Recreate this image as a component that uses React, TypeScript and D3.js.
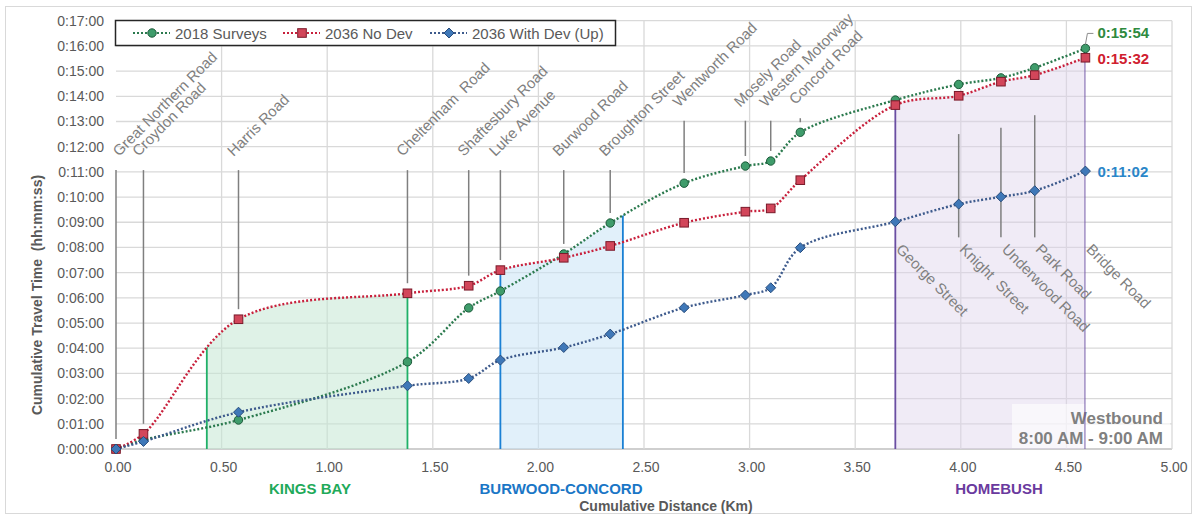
import React from "react";
import * as d3 from "d3";

// ---- data ----
const roadNames = [
  "Great Northern Road", "Croydon Road", "Harris Road", "Cheltenham  Road", "Shaftesbury Road",
  "Luke Avenue", "Burwood Road", "Broughton Street", "Wentworth Road", "Mosely Road",
  "Western Motorway", "Concord Road", "George Street", "Knight  Street", "Underwood Road",
  "Park Road", "Bridge Road",
];
const distanceKm = [0, 0.13, 0.58, 1.38, 1.67, 1.82, 2.12, 2.34, 2.69, 2.98, 3.10, 3.24, 3.69, 3.99, 4.19, 4.35, 4.59];
const surveys2018 = [0, 0.36, 1.15, 3.46, 5.6, 6.27, 7.74, 8.97, 10.55, 11.23, 11.43, 12.57, 13.85, 14.47, 14.73, 15.13, 15.9];
const noDev2036 = [0, 0.6, 5.15, 6.18, 6.48, 7.1, 7.59, 8.06, 8.98, 9.42, 9.55, 10.67, 13.65, 14.02, 14.58, 14.84, 15.53];
const withDev2036 = [0, 0.3, 1.46, 2.51, 2.8, 3.53, 4.03, 4.56, 5.61, 6.11, 6.4, 7.99, 9.02, 9.72, 10.01, 10.25, 11.03];
const labelSide = ["top","top","top","top","top","top","top","top","top","top","top","top","bottom","bottom","bottom","bottom","bottom"];
const leaderTopMin = [11.07, 11.07, 11.07, 11.07, 11.07, 11.07, 11.07, 11.07, 13.03, 13.03, 13.03, 13.13, null, 12.5, 12.75, 13.25, null];
const leaderBottomMin = 8.4;
const endLabels = ["0:15:54", "0:15:32", "0:11:02"];
const seriesNames = ["2018 Surveys", "2036 No Dev", "2036 With Dev (Up)"];
const regions = [
  { name: "KINGS BAY", from: 0.43, to: 1.38, top: ["noDev"] },
  { name: "BURWOOD-CONCORD", from: 1.82, to: 2.40, top: ["noDev", "surveys"] },
  { name: "HOMEBUSH", from: 3.69, to: 4.59, top: ["noDev"] },
];
const regionLineTop = [["noDev"], ["noDev", "surveys"], ["surveys"]];
const xTicks = [0, 0.5, 1, 1.5, 2, 2.5, 3, 3.5, 4, 4.5, 5];
const yTicks = d3.range(0, 18);

const FONT = "'Liberation Sans', Arial, sans-serif";

export default function App() {
  const W = 1195, H = 516;
  const x = d3.scaleLinear().domain([0, 5]).range([116, 1172]);
  const y = d3.scaleLinear().domain([0, 17]).range([449, 20.7]);
  const curve = d3.curveCatmullRom.alpha(0.5);

  const seriesData: Record<string, number[]> = { surveys: surveys2018, noDev: noDev2036, withDev: withDev2036 };
  const pts = (arr: number[]) => arr.map((t, i) => [distanceKm[i], t] as [number, number]);
  const line = d3.line<[number, number]>().x(d => x(d[0])).y(d => y(d[1])).curve(curve);
  const area = d3.area<[number, number]>().x(d => x(d[0])).y0(y(0)).y1(d => y(d[1])).curve(curve);

  const series = [
    { key: "surveys", name: seriesNames[0], line: "#2b7a4e", fill: "#3f9c6b", stroke: "#1d5a3a", marker: "circle", label: "#2e8a3e" },
    { key: "noDev", name: seriesNames[1], line: "#c8203c", fill: "#d2465a", stroke: "#7a1a2a", marker: "square", label: "#d0202f" },
    { key: "withDev", name: seriesNames[2], line: "#3d5a8c", fill: "#3f78b8", stroke: "#284c7c", marker: "diamond", label: "#2a86c8" },
  ];
  const regionStyle = [
    { fill: "#c4e8d3", line: "#20b068", text: "#1faa5a", op: 0.55 },
    { fill: "#c9e4f6", line: "#1a80d4", text: "#1a76c6", op: 0.55 },
    { fill: "#ddd3ec", line: "#6a4ea2", text: "#6a3a9e", op: 0.45 },
  ];

  const marker = (type: string, cx: number, cy: number, fill: string, stroke: string, key: string) => {
    if (type === "circle") return <circle key={key} cx={cx} cy={cy} r={4.2} fill={fill} stroke={stroke} strokeWidth={1} />;
    if (type === "square") return <rect key={key} x={cx - 4.3} y={cy - 4.3} width={8.6} height={8.6} fill={fill} stroke={stroke} strokeWidth={1} />;
    return <path key={key} d={`M${cx},${cy - 5}L${cx + 5},${cy}L${cx},${cy + 5}L${cx - 5},${cy}Z`} fill={fill} stroke={stroke} strokeWidth={1} />;
  };

  const fmtY = (m: number) => `0:${String(m).padStart(2, "0")}:00`;

  return (
    <svg width={W} height={H} style={{ position: "absolute", left: 0, top: 0, fontFamily: FONT }}>
      <defs>
        {regions.map((r, i) => (
          <clipPath id={`rclip${i}`} key={i}>
            <rect x={x(r.from)} y={0} width={x(r.to) - x(r.from)} height={H} />
          </clipPath>
        ))}
        {regionLineTop.map((keys, i) => (
          <clipPath id={`aclip${i}`} key={i}>
            {keys.map(k => <path key={k} d={area(pts(seriesData[k])) || ""} />)}
          </clipPath>
        ))}
      </defs>
      <rect x={0} y={0} width={W} height={H} fill="#fff" />
      <rect x={5.5} y={6.5} width={1186} height={507} fill="none" stroke="#d9d9d9" strokeWidth={1} />

      {/* grid */}
      {yTicks.map(m => (
        <line key={"gy" + m} x1={x(0)} x2={x(5)} y1={y(m)} y2={y(m)} stroke={m === 0 ? "#bfbfbf" : "#d9d9d9"} strokeWidth={1.3} />
      ))}
      {xTicks.filter(v => v > 0).map(v => (
        <line key={"gx" + v} x1={x(v)} x2={x(v)} y1={y(17)} y2={y(0)} stroke="#d9d9d9" strokeWidth={1.3} />
      ))}

      {/* region fills */}
      {regions.map((r, i) => (
        <g key={"rf" + i} clipPath={`url(#rclip${i})`} opacity={regionStyle[i].op}>
          {r.top.map(k => <path key={k} d={area(pts(seriesData[k])) || ""} fill={regionStyle[i].fill} />)}
        </g>
      ))}

      {/* Westbound box */}
      <rect x={1012} y={404} width={158} height={44} fill="#fff" opacity={0.6} />
      <text x={1163} y={424} textAnchor="end" fontSize={17} fontWeight="bold" fill="#808080">Westbound</text>
      <text x={1163} y={444} textAnchor="end" fontSize={17} fontWeight="bold" fill="#808080">8:00 AM - 9:00 AM</text>

      {/* region boundary lines */}
      {regions.map((r, i) => (
        <g key={"rl" + i} clipPath={`url(#aclip${i})`}>
          {[r.from, r.to].map(v => (
            <line key={v} x1={x(v)} x2={x(v)} y1={0} y2={y(0)} stroke={regionStyle[i].line} strokeWidth={1.8} />
          ))}
        </g>
      ))}

      {/* leader lines */}
      {roadNames.map((n, i) => {
        const top = leaderTopMin[i];
        if (top == null) return null;
        const xi = x(distanceKm[i]);
        if (labelSide[i] === "top") {
          const mx = Math.max(surveys2018[i], noDev2036[i], withDev2036[i]);
          return <line key={"ld" + i} x1={xi} x2={xi} y1={y(top)} y2={y(mx + 0.4)} stroke="#7f7f7f" strokeWidth={1.5} />;
        }
        return <line key={"ld" + i} x1={xi} x2={xi} y1={y(top)} y2={y(leaderBottomMin)} stroke="#7f7f7f" strokeWidth={1.5} />;
      })}

      {/* series lines */}
      {series.map(s => (
        <path key={"l" + s.key} d={line(pts(seriesData[s.key])) || ""} fill="none" stroke={s.line} strokeWidth={2.4} strokeDasharray="2 2" />
      ))}
      {series.map(s => (
        <g key={"m" + s.key}>
          {seriesData[s.key].map((t, i) => marker(s.marker, x(distanceKm[i]), y(t), s.fill, s.stroke, s.key + i))}
        </g>
      ))}

      {/* road labels */}
      {roadNames.map((n, i) => {
        const xi = x(distanceKm[i]);
        if (labelSide[i] === "top") {
          const px = Math.max(xi - 5, 119), py = y(leaderTopMin[i] as number) - 13;
          return (
            <text key={"rn" + i} x={px} y={py} transform={`rotate(-45 ${px} ${py})`} fontSize={15} fill="#7f7f7f" style={{ whiteSpace: "pre" }}>{n}</text>
          );
        }
        const px = xi, py = y(leaderBottomMin) + 13;
        return (
          <text key={"rn" + i} x={px} y={py} transform={`rotate(45 ${px} ${py})`} fontSize={15} fill="#7f7f7f" style={{ whiteSpace: "pre" }}>{n}</text>
        );
      })}

      {/* end labels */}
      {(() => {
        const last = distanceKm.length - 1;
        const xl = x(distanceKm[last]);
        return (
          <g>
            <polyline points={`${xl},${y(surveys2018[last]) - 4} ${xl + 2},${y(surveys2018[last]) - 15} ${xl + 8},${y(surveys2018[last]) - 15}`} fill="none" stroke="#8c8c8c" strokeWidth={1} />
            <text x={xl + 12} y={y(surveys2018[last]) - 10} fontSize={15} fontWeight="bold" fill={series[0].label}>{endLabels[0]}</text>
            <text x={xl + 12} y={y(noDev2036[last]) + 6} fontSize={15} fontWeight="bold" fill={series[1].label}>{endLabels[1]}</text>
            <text x={xl + 12} y={y(withDev2036[last]) + 6} fontSize={15} fontWeight="bold" fill={series[2].label}>{endLabels[2]}</text>
          </g>
        );
      })()}

      {/* axes labels */}
      {yTicks.map(m => (
        <text key={"ty" + m} x={104} y={y(m) + 5} textAnchor="end" fontSize={14} fill="#595959">{fmtY(m)}</text>
      ))}
      {xTicks.map(v => (
        <text key={"tx" + v} x={x(v) + 2} y={472} textAnchor="middle" fontSize={14} fill="#595959">{v.toFixed(2)}</text>
      ))}
      {regions.map((r, i) => (
        <text key={"rt" + i} x={[310, 561, 999][i]} y={494} textAnchor="middle" fontSize={15} fontWeight="bold" fill={regionStyle[i].text}>{r.name}</text>
      ))}
      <text x={666} y={511} textAnchor="middle" fontSize={14} fontWeight="bold" fill="#595959">Cumulative Distance (Km)</text>
      <text transform="translate(42 295) rotate(-90)" textAnchor="middle" fontSize={14} fontWeight="bold" fill="#595959" style={{ whiteSpace: "pre" }}>Cumulative Travel Time  (hh:mm:ss)</text>

      {/* legend */}
      <rect x={115.5} y={20.5} width={500} height={25} fill="#fff" stroke="#262626" strokeWidth={1.5} />
      {series.map((s, i) => {
        const lx = [133, 283, 430][i];
        const cy = 33;
        return (
          <g key={"lg" + i}>
            <line x1={lx} x2={lx + 37} y1={cy} y2={cy} stroke={s.line} strokeWidth={2} strokeDasharray="2 2" />
            {marker(s.marker, lx + 19, cy, s.fill, s.stroke, "lm" + i)}
            <text x={lx + 42} y={cy + 5.5} fontSize={15} fill="#595959">{s.name}</text>
          </g>
        );
      })}
    </svg>
  );
}
